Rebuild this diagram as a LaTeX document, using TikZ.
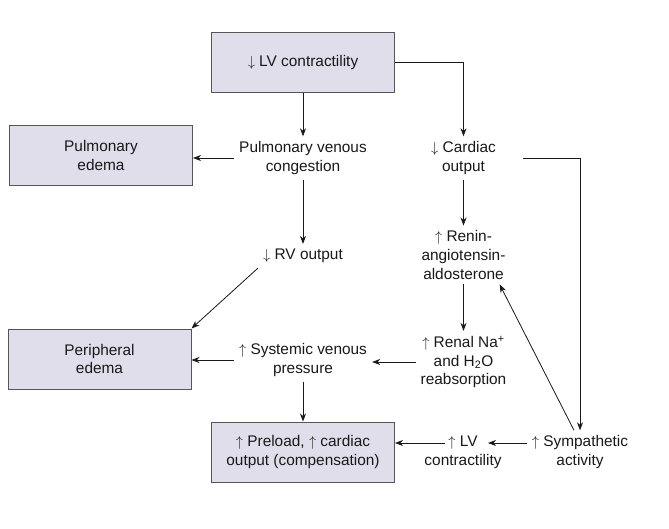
\documentclass[tikz,border=0pt]{standalone}
\usepackage{fontspec}
\setmainfont{Liberation Sans}
\usetikzlibrary{arrows.meta}
\definecolor{boxfill}{RGB}{223,222,234}
\definecolor{boxline}{RGB}{85,85,85}
\definecolor{ink}{RGB}{25,25,25}
\newcommand{\up}{$\uparrow$\ }
\newcommand{\dn}{$\downarrow$\ }
\begin{document}
\begin{tikzpicture}[x=1pt,y=-1pt,
  every node/.style={font=\fontsize{15.4pt}{18.6pt}\selectfont, text=ink, align=center},
  boxnode/.style={draw=boxline, fill=boxfill, line width=1pt, minimum width=183pt, minimum height=60pt, inner sep=0pt},
  label/.style={inner sep=5pt},
  conn/.style={draw=ink, line width=0.8pt, -{Stealth[length=8pt,width=6pt,inset=2.5pt]}}
]
\useasboundingbox (0,0) rectangle (669,529);
\fill[white] (0,0) rectangle (669,529);

\node[boxnode] (top) at (303,62.5) {\dn LV contractility};
\node[boxnode] (pe) at (101,155.5) {Pulmonary\\edema};
\node[boxnode] (ped) at (99.5,359) {Peripheral\\edema};
\node[boxnode] (bot) at (303,452) {\up Preload, \up cardiac\\output (compensation)};

\node[label] (pvc) at (303,158) {Pulmonary venous\\congestion};
\node[label] (co) at (463.5,158) {\dn Cardiac\\output};
\node[label] (rv) at (303,256) {\dn RV output};
\node[label] (raas) at (463.5,255) {\up Renin-\\angiotensin-\\aldosterone};
\node[label] (renal) at (463.5,362) {\up Renal Na\textsuperscript{+}\\and H\textsubscript{2}O\\reabsorption};
\node[label] (svp) at (303,360) {\up Systemic venous\\pressure};
\node[label] (lvc) at (463,452) {\up LV\\contractility};
\node[label] (sym) at (580,452) {\up Sympathetic\\activity};

\draw[conn] (top.south) -- (pvc.north);
\draw[conn] (top.east) -| (co.north);
\draw[conn] (pvc.west) -- (pvc.west -| pe.east);
\draw[conn] (pvc.south) -- (rv.north);
\draw[conn] (rv.south west) -- (ped.north east);
\draw[conn] (svp.west) -- (svp.west -| ped.east);
\draw[conn] (renal.west) -- (renal.west -| svp.east);
\draw[conn] (svp.south) -- (bot.north);
\draw[conn] (co.south) -- (raas.north);
\draw[conn] (raas.south) -- (renal.north);
\draw[conn] ([xshift=22pt]co.east) -| (sym.north);
\draw[conn] ([xshift=-6pt]sym.north) -- ([xshift=-11pt]raas.south east);
\draw[conn] ([yshift=9pt]sym.west) -- ([xshift=25pt,yshift=9pt]lvc.center);
\draw[conn] ([xshift=-18pt,yshift=9pt]lvc.center) -- ([yshift=9pt]lvc.center -| bot.east);
\end{tikzpicture}
\end{document}
